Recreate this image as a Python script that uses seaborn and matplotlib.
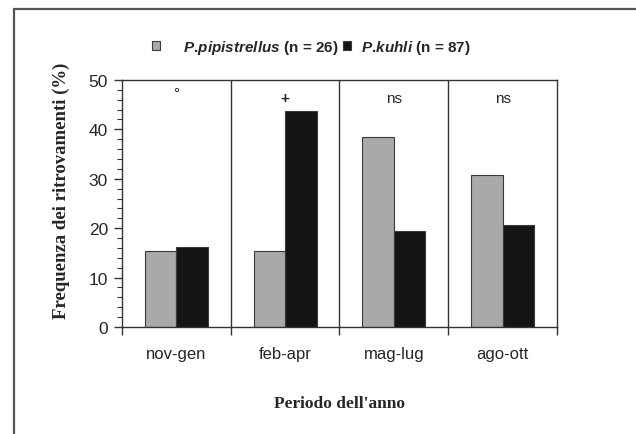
import matplotlib
matplotlib.use("Agg")
import matplotlib.pyplot as plt
from matplotlib.lines import Line2D
import seaborn as sns
import pandas as pd

periods = ["nov-gen", "feb-apr", "mag-lug", "ago-ott"]
pipistrellus = [15.4, 15.4, 38.5, 30.8]
kuhli = [16.1, 43.7, 19.5, 20.7]
significance = ["°", "+", "ns", "ns"]
species_labels = [r"$\mathit{P.\!pipistrellus}$ (n = 26)", r"$\mathit{P.\!kuhli}$ (n = 87)"]
species = ["P.pipistrellus", "P.kuhli"]
yticks = [0, 10, 20, 30, 40, 50]

df = pd.DataFrame({
    "Periodo": periods * 2,
    "Specie": [species[0]] * 4 + [species[1]] * 4,
    "Freq": pipistrellus + kuhli,
})

sns.set_theme(style="white")
plt.rcParams["font.family"] = ["Liberation Sans", "DejaVu Sans"]
plt.rcParams["mathtext.fontset"] = "custom"
plt.rcParams["mathtext.it"] = "Liberation Sans:italic:bold"
plt.rcParams["mathtext.rm"] = "Liberation Sans:bold"

fig = plt.figure(figsize=(6.36, 4.35), dpi=100)
ax = fig.add_axes([0.1918, 0.246, 0.684, 0.568])

sns.barplot(data=df, x="Periodo", y="Freq", hue="Specie", order=periods,
            hue_order=species, palette=["#a9a9a9", "#141414"], width=0.58,
            gap=0, edgecolor="#3a3a3a", linewidth=0.8, ax=ax, legend=True)

ax.set_xlim(-0.5, 3.5)
ax.set_ylim(0, 50)
ax.set_yticks(yticks)
ax.set_yticks(range(0, 51, 2), minor=True)
ax.set_yticklabels([str(v) for v in yticks], fontsize=12.5)

ax.set_xticks([-0.5, 0.5, 1.5, 2.5, 3.5])
ax.set_xticklabels([])
ax.set_xticks(range(len(periods)), minor=True)
ax.set_xticklabels(periods, minor=True, fontsize=12)
ax.tick_params(axis="x", which="major", direction="out", length=6, width=1, color="#333333", bottom=True)
ax.tick_params(axis="x", which="minor", length=0, pad=14)
ax.tick_params(axis="y", which="major", direction="out", length=6, width=1, color="#333333", left=True, pad=4)
ax.tick_params(axis="y", which="minor", direction="out", length=3.5, width=0.8, color="#333333", left=True)

for b in [0.5, 1.5, 2.5]:
    ax.axvline(b, color="#333333", lw=1)

for sp in ax.spines.values():
    sp.set_color("#333333")
    sp.set_linewidth(1)
    sp.set_visible(True)

for i, s in enumerate(significance):
    ax.text(i, 48.8 if s == "°" else 47.8, s, ha="center", va="top", fontsize=11,
            fontweight="bold" if s == "+" else "normal")

ax.set_xlabel("Periodo dell'anno", family=["Liberation Serif"], fontweight="bold",
              fontsize=12.5, labelpad=24)
ax.set_ylabel("Frequenza dei ritrovamenti (%)", family=["Liberation Serif"],
              fontweight="bold", fontsize=13.5)
ax.yaxis.set_label_coords(-0.12, 0.555)

handles, _ = ax.get_legend_handles_labels()
ax.get_legend().remove()
fig.legend([handles[0]], [species_labels[0]], loc="center left",
           bbox_to_anchor=(0.239, 0.889), frameon=False, handlelength=0.55,
           handleheight=0.55, handletextpad=1.45, borderpad=0, borderaxespad=0,
           prop={"weight": "bold", "size": 11})
fig.legend([handles[1]], [species_labels[1]], loc="center left",
           bbox_to_anchor=(0.539, 0.889), frameon=False, handlelength=0.55,
           handleheight=0.55, handletextpad=0.65, borderpad=0, borderaxespad=0,
           prop={"weight": "bold", "size": 11})

fig.add_artist(Line2D([14.5 / 636, 1.0], [1 - 9.5 / 435, 1 - 9.5 / 435],
                      transform=fig.transFigure, color="#555555", lw=1.6))
fig.add_artist(Line2D([14.5 / 636, 14.5 / 636], [0, 1 - 9.5 / 435],
                      transform=fig.transFigure, color="#555555", lw=1.6))

fig.savefig("out.png", dpi=100)
